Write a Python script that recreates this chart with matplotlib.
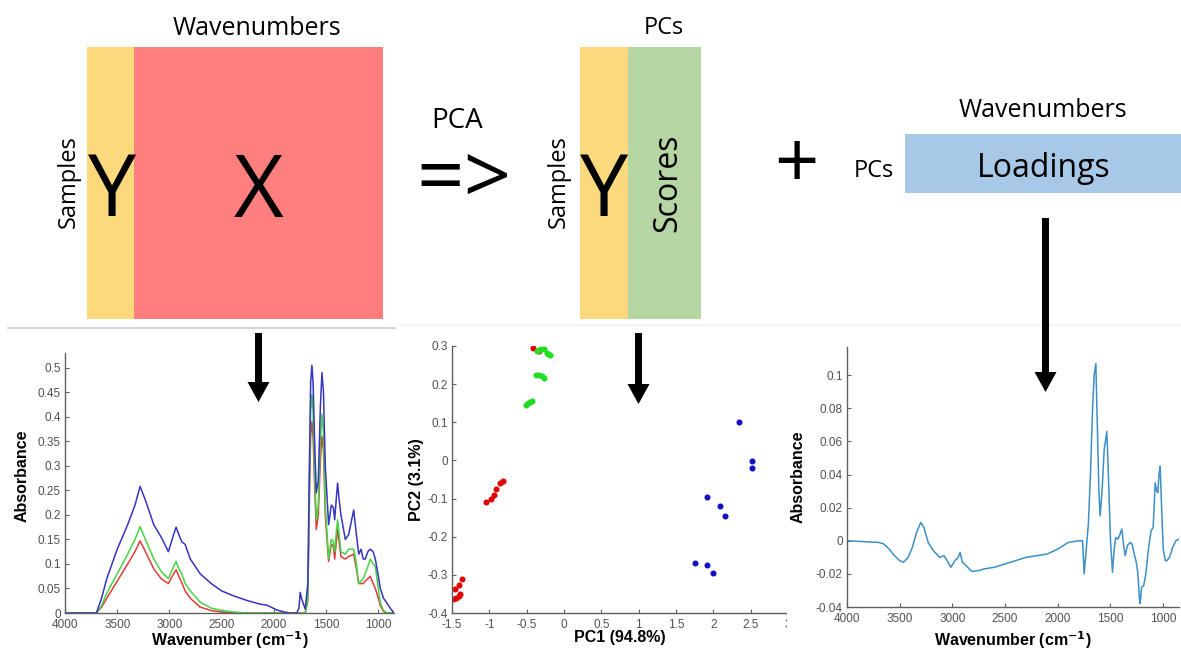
import numpy as np
import matplotlib
matplotlib.use("Agg")
import matplotlib.pyplot as plt
from matplotlib.patches import Rectangle, Polygon
from matplotlib.ticker import FuncFormatter

plt.rcParams["axes.unicode_minus"] = False

# ---- raw spectra (left panel) ----
wn = [4000, 3700, 3650, 3600, 3500, 3400, 3330, 3281, 3230, 3150, 3080, 3010,
      2960, 2936, 2910, 2882, 2850, 2800, 2706, 2600, 2500, 2387, 2250, 2131,
      2067, 1970, 1900, 1843, 1780, 1760, 1748, 1736, 1700, 1675, 1660, 1648, 1636,
      1625, 1610, 1594, 1575, 1555, 1540, 1525, 1508, 1476, 1450, 1430, 1418, 1400, 1390,
      1375, 1358, 1316, 1284, 1236, 1210, 1188, 1166, 1145, 1125, 1100, 1077,
      1050, 1029, 1000, 981, 950, 917, 880, 850]
abs_blue = [0, 0, 0.03, 0.07, 0.13, 0.18, 0.22, 0.258, 0.23, 0.18, 0.155, 0.125,
            0.16, 0.175, 0.16, 0.145, 0.14, 0.11, 0.08, 0.06, 0.045, 0.035, 0.025, 0.018,
            0.016, 0.006, 0.002, 0, 0, 0.01, 0.042, 0.03, 0.008, 0.06, 0.3, 0.47, 0.505,
            0.47, 0.35, 0.245, 0.27, 0.42, 0.49, 0.45, 0.3, 0.18, 0.22, 0.215, 0.19, 0.24, 0.265,
            0.23, 0.2, 0.15, 0.16, 0.21, 0.16, 0.12, 0.13, 0.11, 0.11, 0.125, 0.13,
            0.125, 0.11, 0.075, 0.05, 0.03, 0.02, 0.008, 0]
abs_green = [0, 0, 0.015, 0.04, 0.08, 0.12, 0.15, 0.176, 0.15, 0.11, 0.085, 0.07,
             0.095, 0.105, 0.09, 0.08, 0.06, 0.045, 0.022, 0.01, 0.005, 0.002, 0, 0,
             0, 0, 0, 0, 0, 0, 0, 0, 0, 0.03, 0.26, 0.41, 0.445,
             0.41, 0.29, 0.19, 0.22, 0.35, 0.405, 0.37, 0.22, 0.11, 0.15, 0.145, 0.125, 0.17, 0.19,
             0.16, 0.125, 0.12, 0.13, 0.13, 0.1, 0.06, 0.065, 0.07, 0.08, 0.095, 0.11,
             0.1, 0.095, 0.05, 0.02, 0.005, 0, 0, 0]
abs_red = [0, 0, 0.012, 0.03, 0.065, 0.1, 0.125, 0.147, 0.125, 0.09, 0.07, 0.06,
           0.08, 0.088, 0.075, 0.062, 0.045, 0.03, 0.012, 0.005, 0.002, 0, 0, 0,
           0, 0, 0, 0, 0, 0, 0, 0, 0, 0.025, 0.23, 0.36, 0.39,
           0.36, 0.26, 0.17, 0.2, 0.31, 0.36, 0.33, 0.2, 0.105, 0.14, 0.135, 0.11, 0.15, 0.17,
           0.145, 0.115, 0.11, 0.115, 0.12, 0.09, 0.06, 0.06, 0.06, 0.065, 0.07, 0.075,
           0.06, 0.05, 0.03, 0.015, 0.003, 0, 0, 0]

# ---- PCA scores (middle panel) ----
pc1_red = [-0.42, -0.34, -1.045, -0.98, -0.94, -0.91, -0.86, -0.82,
           -1.36, -1.40, -1.46, -1.49, -1.45, -1.41, -1.39]
pc2_red = [0.295, 0.288, -0.108, -0.1, -0.091, -0.074, -0.06, -0.053,
           -0.312, -0.327, -0.338, -0.363, -0.36, -0.355, -0.351]
pc1_green = [-0.36, -0.33, -0.31, -0.27, -0.23, -0.21, -0.19,
             -0.37, -0.33, -0.30, -0.27, -0.51, -0.48, -0.45, -0.43]
pc2_green = [0.288, 0.29, 0.293, 0.292, 0.282, 0.28, 0.277,
             0.223, 0.224, 0.222, 0.217, 0.145, 0.15, 0.153, 0.155]
pc1_blue = [2.35, 2.52, 2.52, 1.91, 2.09, 2.15, 1.76, 1.91, 2.0]
pc2_blue = [0.1, -0.002, -0.019, -0.097, -0.12, -0.146, -0.27, -0.274, -0.294]

# ---- PC1 loading (right panel) ----
wn_load = [4000, 3700, 3650, 3600, 3550, 3500, 3465, 3420, 3380, 3340, 3300, 3270,
           3230, 3180, 3120, 3080, 3050, 3015, 2975, 2945, 2927, 2905, 2870, 2840,
           2816, 2750, 2700, 2600, 2500, 2400, 2300, 2200, 2100, 2000, 1950, 1900,
           1800, 1765, 1750, 1730, 1710, 1690, 1670, 1655, 1639, 1625, 1610, 1598,
           1580, 1560, 1535, 1520, 1500, 1481, 1465, 1450, 1430, 1415, 1392, 1375,
           1361, 1340, 1313, 1295, 1275, 1255, 1240, 1225, 1218, 1205, 1185, 1165,
           1140, 1115, 1095, 1076, 1062, 1051, 1040, 1029, 1015, 1000, 980, 965,
           940, 910, 880, 850]
loading = [0, -0.001, -0.002, -0.005, -0.009, -0.012, -0.013, -0.01, -0.004, 0.005, 0.011, 0.008,
           -0.001, -0.006, -0.01, -0.009, -0.012, -0.016, -0.012, -0.01, -0.007, -0.013, -0.015, -0.017,
           -0.0185, -0.018, -0.017, -0.016, -0.014, -0.012, -0.01, -0.009, -0.008, -0.005, -0.003, -0.001,
           0.0, 0.0, -0.02, -0.005, 0.01, 0.04, 0.08, 0.1, 0.107, 0.07, 0.03, 0.015,
           0.03, 0.055, 0.066, 0.04, 0.0, -0.019, -0.005, 0.002, 0.001, 0.003, 0.007, -0.003,
           -0.009, -0.003, -0.001, -0.002, -0.008, -0.013, -0.02, -0.035, -0.038, -0.028, -0.027, -0.02,
           -0.005, 0.006, 0.008, 0.035, 0.03, 0.029, 0.04, 0.045, 0.02, -0.005, -0.012, -0.012,
           -0.01, -0.004, 0.0, 0.001]

W, H = 1181, 650
fig = plt.figure(figsize=(W / 100, H / 100), dpi=100)
fig.patch.set_facecolor("white")


def box(x0, y0, x1, y1):
    # pixel box (top-left origin) -> figure fraction rect
    return [x0 / W, 1 - y1 / H, (x1 - x0) / W, (y1 - y0) / H]


def matlab_fmt(v, p):
    v = round(v, 4)
    if abs(v) < 1e-9:
        v = 0.0
    return "%g" % v


fmt = FuncFormatter(matlab_fmt)
lab_font = {"family": "Liberation Sans", "size": 11.5, "weight": "bold"}


def style(ax):
    for s in ["top", "right"]:
        ax.spines[s].set_visible(False)
    for s in ["left", "bottom"]:
        ax.spines[s].set_color("#606060")
        ax.spines[s].set_linewidth(1.0)
    ax.tick_params(direction="in", length=3, width=0.8, color="#606060",
                   labelsize=8.5, labelcolor="#505050", pad=3)
    ax.tick_params(axis="x", pad=4)
    for t in ax.get_xticklabels() + ax.get_yticklabels():
        t.set_family("Liberation Sans")
    ax.xaxis.set_major_formatter(fmt)
    ax.yaxis.set_major_formatter(fmt)


# left: spectra
ax1 = fig.add_axes(box(65, 353, 394, 613))
ax1.plot(wn, abs_red, color="#e03a3a", lw=1.1)
ax1.plot(wn, abs_green, color="#44d444", lw=1.1)
ax1.plot(wn, abs_blue, color="#3535c0", lw=1.1)
ax1.set_xlim(4000, 850)
ax1.set_ylim(0, 0.53)
ax1.set_xticks(np.arange(4000, 999, -500))
ax1.set_yticks(np.arange(0, 0.501, 0.05))
style(ax1)
ax1.set_ylabel("Absorbance", **lab_font)
ax1.set_xlabel(r"Wavenumber (cm$^{\mathbf{-1}}$)", **lab_font)
ax1.yaxis.set_label_coords(-43 / 329, 0.527)
ax1.yaxis.label.set_va("center")
ax1.xaxis.set_label_coords(0.5, -0.062)

# middle: scores
ax2 = fig.add_axes(box(452, 346, 788, 613))
ax2.scatter(pc1_red, pc2_red, s=19, color="#e00000", linewidths=0, zorder=2)
ax2.scatter(pc1_green, pc2_green, s=19, color="#22dd22", linewidths=0, zorder=3)
ax2.scatter(pc1_blue, pc2_blue, s=19, color="#1010c0", linewidths=0, zorder=3)
ax2.set_xlim(-1.5, 3)
ax2.set_ylim(-0.4, 0.3)
ax2.set_xticks(np.arange(-1.5, 3.01, 0.5))
ax2.set_yticks(np.arange(-0.4, 0.301, 0.1))
style(ax2)
ax2.set_ylabel("PC2 (3.1%)", **lab_font)
ax2.set_xlabel("PC1 (94.8%)", **lab_font)
ax2.yaxis.set_label_coords(-35 / 336, 0.5)
ax2.yaxis.label.set_va("center")
ax2.xaxis.set_label_coords(0.5, -0.065)

# white strip cutting off the middle plot's last label
fig.patches.append(Rectangle((787 / W, 0), 60 / W, 0.1, transform=fig.transFigure,
                             facecolor="white", edgecolor="none", zorder=0.5))

# right: loadings
ax3 = fig.add_axes(box(847, 347, 1179, 607))
ax3.set_zorder(1)
ax3.patch.set_alpha(0)
ax3.plot(wn_load, loading, color="#3d8fc8", lw=1.1)
ax3.set_xlim(4000, 850)
ax3.set_ylim(-0.04, 0.117)
ax3.set_xticks(np.arange(4000, 999, -500))
ax3.set_yticks(np.arange(-0.04, 0.101, 0.02))
style(ax3)
ax3.set_ylabel("Absorbance", **lab_font)
ax3.set_xlabel(r"Wavenumber (cm$^{\mathbf{-1}}$)", **lab_font)
ax3.yaxis.set_label_coords(-49 / 332, 0.5)
ax3.yaxis.label.set_va("center")
ax3.xaxis.set_label_coords(0.5, -0.087)

# overlay: matrices, text and arrows in pixel coordinates
ov = fig.add_axes([0, 0, 1, 1])
ov.set_zorder(5)
ov.set_xlim(0, W)
ov.set_ylim(H, 0)
ov.axis("off")

yellow, red, green, blue = "#fdd97e", "#ff7f7f", "#b5d6a3", "#a8c8e8"
ov.add_patch(Rectangle((87, 47), 47, 272, facecolor=yellow, edgecolor="none"))
ov.add_patch(Rectangle((134, 47), 249, 272, facecolor=red, edgecolor="none"))
ov.add_patch(Rectangle((580, 47), 48, 272, facecolor=yellow, edgecolor="none"))
ov.add_patch(Rectangle((628, 47), 73, 272, facecolor=green, edgecolor="none"))
ov.add_patch(Rectangle((905, 134), 276, 59, facecolor=blue, edgecolor="none"))
ov.plot([8, 395], [328, 328], color="#d4d4d4", lw=1.5, zorder=0.5)
ov.plot([400, 1181], [325, 325], color="#f2f2f2", lw=1.5, zorder=0.5)

ff = "Open Sans"
ov.text(257, 35, "Wavenumbers", fontsize=18, family=ff, ha="center", va="baseline")
ov.text(69, 182, "Samples", fontsize=17, family=ff, rotation=90, ha="center", va="center")
ov.text(111, 216, "Y", fontsize=62, family=ff, ha="center", va="baseline")
ov.text(259, 217, "X", fontsize=62, family=ff, ha="center", va="baseline")
ov.text(457, 128, "PCA", fontsize=20, family=ff, ha="center", va="baseline")
ov.text(464, 204, "=>", fontsize=60, family=ff, ha="center", va="baseline")
ov.text(664, 34, "PCs", fontsize=17, family=ff, ha="center", va="baseline")
ov.text(559, 182, "Samples", fontsize=17, family=ff, rotation=90, ha="center", va="center")
ov.text(603, 216, "Y", fontsize=62, family=ff, ha="center", va="baseline")
ov.text(668, 183, "Scores", fontsize=23, family=ff, rotation=90, ha="center", va="center")
ov.text(796, 188, "+", fontsize=56, family=ff, ha="center", va="baseline")
ov.text(874, 177, "PCs", fontsize=17, family=ff, ha="center", va="baseline")
ov.text(1043, 117, "Wavenumbers", fontsize=18, family=ff, ha="center", va="baseline")
ov.text(1044, 177, "Loadings", fontsize=23, family=ff, ha="center", va="baseline")


def down_arrow(x, y0, y1, shaft=7, head=22, head_len=20):
    ov.add_patch(Polygon([
        (x - shaft / 2, y0), (x + shaft / 2, y0), (x + shaft / 2, y1 - head_len),
        (x + head / 2, y1 - head_len), (x, y1), (x - head / 2, y1 - head_len),
        (x - shaft / 2, y1 - head_len)], closed=True, facecolor="black",
        edgecolor="none", zorder=3))


down_arrow(258.5, 333, 402)
down_arrow(638.5, 333, 404)
down_arrow(1045.5, 218, 392)

fig.savefig("out.png", dpi=100, facecolor="white")
